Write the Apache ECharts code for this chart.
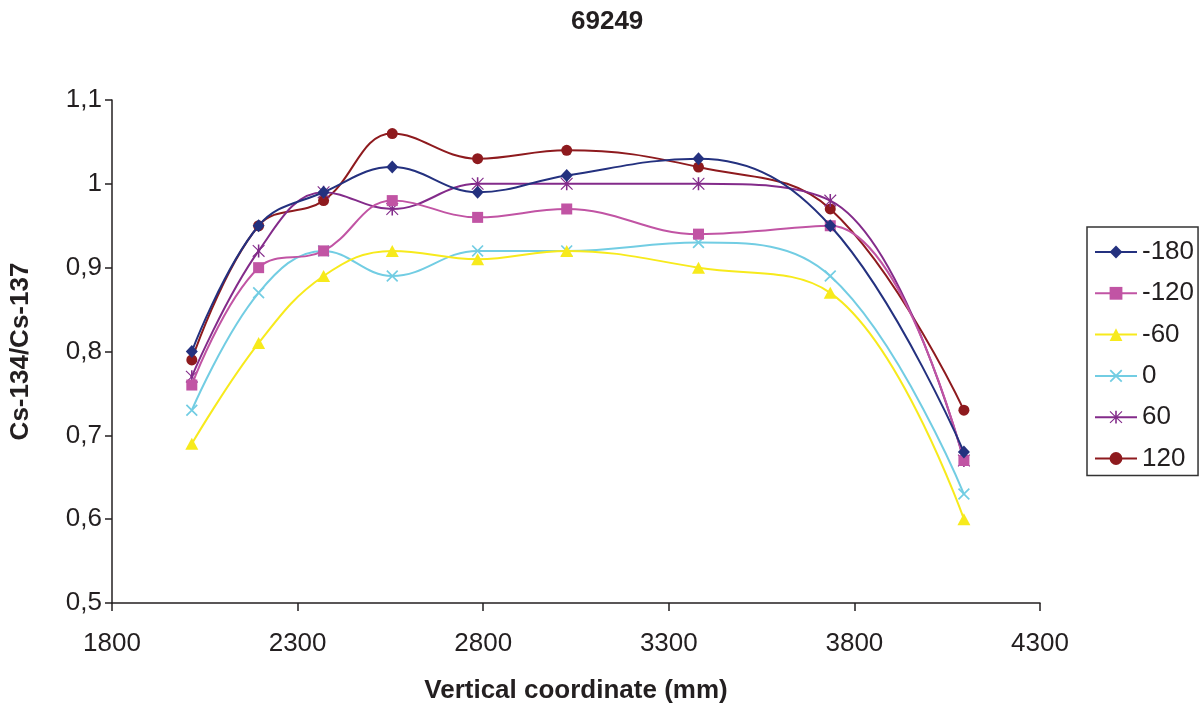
<!DOCTYPE html>
<html>
<head>
<meta charset="utf-8">
<script src="https://cdn.jsdelivr.net/npm/echarts@6/dist/echarts.min.js"></script>
<style>
html,body{margin:0;padding:0;background:#fff;}
#chart{width:1203px;height:709px;}
</style>
</head>
<body>
<div id="chart"></div>
<script>
// ---- data ----
const titleText = '69249';
const xPositions = [2015, 2195, 2370, 2555, 2785, 3025, 3380, 3735, 4095];
const seriesNames = ['-180', '-120', '-60', '0', '60', '120'];
const vM180 = [0.80, 0.95, 0.99, 1.02, 0.99, 1.01, 1.03, 0.95, 0.68];
const vM120 = [0.76, 0.90, 0.92, 0.98, 0.96, 0.97, 0.94, 0.95, 0.67];
const vM60  = [0.69, 0.81, 0.89, 0.92, 0.91, 0.92, 0.90, 0.87, 0.60];
const v0    = [0.73, 0.87, 0.92, 0.89, 0.92, 0.92, 0.93, 0.89, 0.63];
const v60   = [0.77, 0.92, 0.99, 0.97, 1.00, 1.00, 1.00, 0.98, 0.67];
const v120  = [0.79, 0.95, 0.98, 1.06, 1.03, 1.04, 1.02, 0.97, 0.73];
const xTicks = [1800, 2300, 2800, 3300, 3800, 4300];
const yTicks = [0.5, 0.6, 0.7, 0.8, 0.9, 1.0, 1.1];

// ---- styling ----
const FONT = 'Liberation Sans, Arial, Helvetica, sans-serif';
const TXT = '#231f20';
const colors = ['#24317f', '#c154a4', '#f7ea1c', '#72cde3', '#832b8a', '#8e1a1e'];
const crossPath = 'path://M0,1 L1,0 L5,4 L9,0 L10,1 L6,5 L10,9 L9,10 L5,6 L1,10 L0,9 L4,5 Z';
const starPath = 'path://M4.4,0 L5.6,0 L5.6,3.8 L9.2,0.2 L9.8,0.8 L6.2,4.4 L6.2,5.6 L9.8,9.2 L9.2,9.8 L5.6,6.2 L5.6,10 L4.4,10 L4.4,6.2 L0.8,9.8 L0.2,9.2 L3.8,5.6 L3.8,4.4 L0.2,0.8 L0.8,0.2 L4.4,3.8 Z';
const symbols = ['diamond', 'rect', 'triangle', crossPath, starPath, 'circle'];
const symbolSizes = [[12, 13], 11, [13, 12], 12, 13, 11];
const values = [vM180, vM120, vM60, v0, v60, v120];

const series = seriesNames.map((name, i) => ({
  name: name,
  type: 'line',
  smooth: 0.4,
  data: xPositions.map((x, j) => [x, values[i][j]]),
  symbol: symbols[i],
  symbolSize: symbolSizes[i],
  symbolKeepAspect: true,
  showAllSymbol: true,
  lineStyle: { color: colors[i], width: 2 },
  itemStyle: { color: colors[i], opacity: 1 },
  emphasis: { disabled: true },
  z: 10 - i
}));

const fmtY = v => String(+v.toFixed(1)).replace('.', ',');
const fmtX = v => String(v);

const chart = echarts.init(document.getElementById('chart'), null, { renderer: 'canvas' });
chart.setOption({
  animation: false,
  backgroundColor: '#ffffff',
  color: colors,
  title: {
    text: titleText,
    left: 566,
    top: 4,
    textStyle: { fontFamily: FONT, fontSize: 26, fontWeight: 'bold', color: TXT }
  },
  grid: { left: 110, right: 163, top: 100, bottom: 106, containLabel: false },
  xAxis: {
    type: 'value',
    min: xTicks[0],
    max: xTicks[xTicks.length - 1],
    interval: 500,
    name: 'Vertical coordinate (mm)',
    nameLocation: 'middle',
    nameGap: 75,
    nameTextStyle: { fontFamily: FONT, fontSize: 26, fontWeight: 'bold', color: TXT },
    axisLine: { show: true, onZero: false, lineStyle: { color: TXT, width: 1.5 } },
    axisTick: { show: true, inside: false, length: 8, lineStyle: { color: TXT, width: 1.5 } },
    axisLabel: { margin: 28, fontFamily: FONT, fontSize: 26, color: TXT, formatter: fmtX },
    splitLine: { show: false }
  },
  yAxis: {
    type: 'value',
    min: yTicks[0],
    max: yTicks[yTicks.length - 1],
    interval: 0.1,
    name: 'Cs-134/Cs-137',
    nameLocation: 'middle',
    nameGap: 78,
    nameTextStyle: { fontFamily: FONT, fontSize: 26, fontWeight: 'bold', color: TXT },
    axisLine: { show: true, onZero: false, lineStyle: { color: TXT, width: 1.5 } },
    axisTick: { show: true, inside: false, length: 7, lineStyle: { color: TXT, width: 1.5 } },
    axisLabel: { margin: 10, fontFamily: FONT, fontSize: 26, color: TXT, formatter: fmtY },
    splitLine: { show: false }
  },
  legend: {
    orient: 'vertical',
    left: 1087,
    top: 227,
    padding: [12, 4, 4, 7],
    itemGap: 15.3,
    itemWidth: 42,
    itemHeight: 16,
    borderColor: '#333333',
    borderWidth: 1.5,
    selectedMode: false,
    textStyle: { fontFamily: FONT, fontSize: 26, color: TXT },
    data: seriesNames
  },
  series: series
});
</script>
</body>
</html>
